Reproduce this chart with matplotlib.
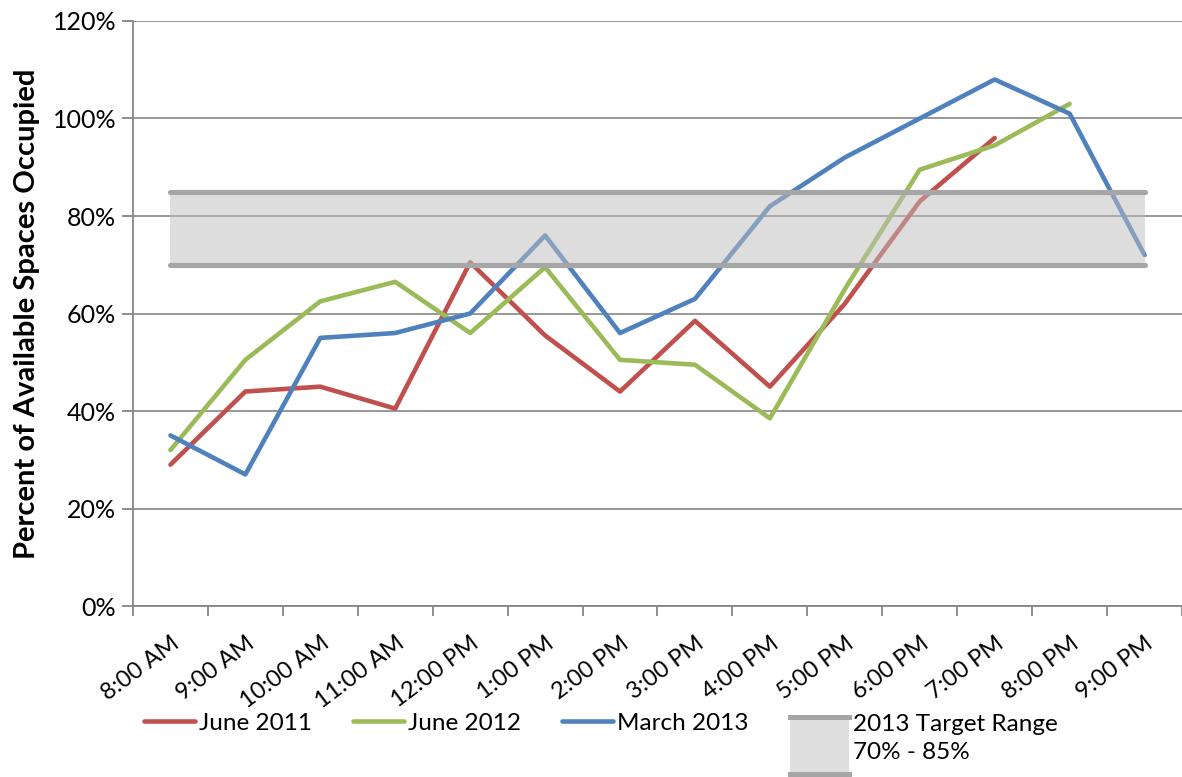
import matplotlib
matplotlib.use("Agg")
import matplotlib.pyplot as plt
from matplotlib.patches import Rectangle
from matplotlib.lines import Line2D
import numpy as np

plt.rcParams['font.family'] = ['Lato', 'DejaVu Sans']

# data
times = ["8:00 AM", "9:00 AM", "10:00 AM", "11:00 AM", "12:00 PM", "1:00 PM", "2:00 PM",
         "3:00 PM", "4:00 PM", "5:00 PM", "6:00 PM", "7:00 PM", "8:00 PM", "9:00 PM"]
june_2011 = [29, 44, 45, 40.5, 70.5, 55.5, 44, 58.5, 45, 62, 83, 96, np.nan, np.nan]
june_2012 = [32, 50.5, 62.5, 66.5, 56, 69.5, 50.5, 49.5, 38.5, 65, 89.5, 94.5, 103, np.nan]
march_2013 = [35, 27, 55, 56, 60, 76, 56, 63, 82, 92, 100, 108, 101, 72]
target_low = 70
target_high = 85

red = '#C0504D'
green = '#9BBB59'
blue = '#4F81BD'
band_edge = '#A6A6A6'
axis_grey = '#868686'


class BandHandler:
    # legend box: grey fill with a thick line on top and bottom
    def legend_artist(self, legend, orig_handle, fontsize, handlebox):
        x0, y0 = handlebox.xdescent, handlebox.ydescent
        w = handlebox.width * 1.15
        h = fontsize * 2.35
        bot = -y0 - fontsize * 1.8
        tr = handlebox.get_transform()
        r = Rectangle((-x0, bot), w, h, facecolor='#DEDEDE', edgecolor='none', transform=tr)
        l1 = Line2D([-x0, -x0 + w], [bot, bot], color=band_edge, lw=3.6, transform=tr)
        l2 = Line2D([-x0, -x0 + w], [bot + h, bot + h], color=band_edge, lw=3.6, transform=tr)
        handlebox.add_artist(r)
        handlebox.add_artist(l1)
        handlebox.add_artist(l2)
        return r


fig = plt.figure(figsize=(11.82, 7.77), dpi=100)
ax = fig.add_axes([0.1125, 0.22, 0.8875, 0.753])

x = np.arange(len(times))
kw = dict(lw=3.3, solid_joinstyle='round', solid_capstyle='round', zorder=3)
l1, = ax.plot(x, june_2011, color=red, label='June 2011', **kw)
l2, = ax.plot(x, june_2012, color=green, label='June 2012', **kw)
l3, = ax.plot(x, march_2013, color=blue, label='March 2013', **kw)

# target range, drawn semi transparent over the lines
ax.fill_between([0, len(times) - 1], target_low, target_high, color='#BDBDBD', alpha=0.5,
                lw=0, zorder=4)
for yv in (target_low, target_high):
    ax.plot([0, len(times) - 1], [yv, yv], color=band_edge, lw=3.7, solid_capstyle='round', zorder=5)

ax.set_xlim(-0.5, len(times) - 0.5)
ax.set_ylim(0, 120)
ax.set_yticks(np.arange(0, 121, 20))
ax.set_yticklabels([f'{v}%' for v in range(0, 121, 20)], fontsize=18)
ax.yaxis.grid(True, color=axis_grey, lw=1.2, zorder=1)
ax.set_axisbelow(True)

# labels at category centres, tick marks between categories
ax.set_xticks(x)
ax.set_xticklabels(times, rotation=37, ha='right', va='top', rotation_mode='anchor', fontsize=17)
ax.tick_params(axis='x', length=0, pad=19)
ax.set_xticks(np.arange(-0.5, len(times)), minor=True)
ax.tick_params(axis='x', which='minor', length=7, width=1.3, color=axis_grey)
ax.tick_params(axis='y', length=8, width=1.3, color=axis_grey, pad=4)

for s in ('top', 'right'):
    ax.spines[s].set_visible(False)
for s in ('left', 'bottom'):
    ax.spines[s].set_color(axis_grey)
    ax.spines[s].set_linewidth(1.3)

ax.set_ylabel('Percent of Available Spaces Occupied', fontsize=21, fontweight='bold', labelpad=9)

band_proxy = Rectangle((0, 0), 1, 1)
leg = fig.legend([l1, l2, l3, band_proxy],
                 ['June 2011', 'June 2012', 'March 2013', '2013 Target Range\n70% - 85%'],
                 handler_map={Rectangle: BandHandler()},
                 loc='upper center', bbox_to_anchor=(0.505, 0.131), ncol=4, frameon=False,
                 fontsize=17.5, handlelength=2.1, handletextpad=0.15, columnspacing=1.7)
# two line label: first line level with the other entries
band_text = leg.get_texts()[3]
band_text.set_linespacing(1.4)
band_text.set_x(8)
band_text.set_y(-17)

fig.savefig('out.png', dpi=100)
